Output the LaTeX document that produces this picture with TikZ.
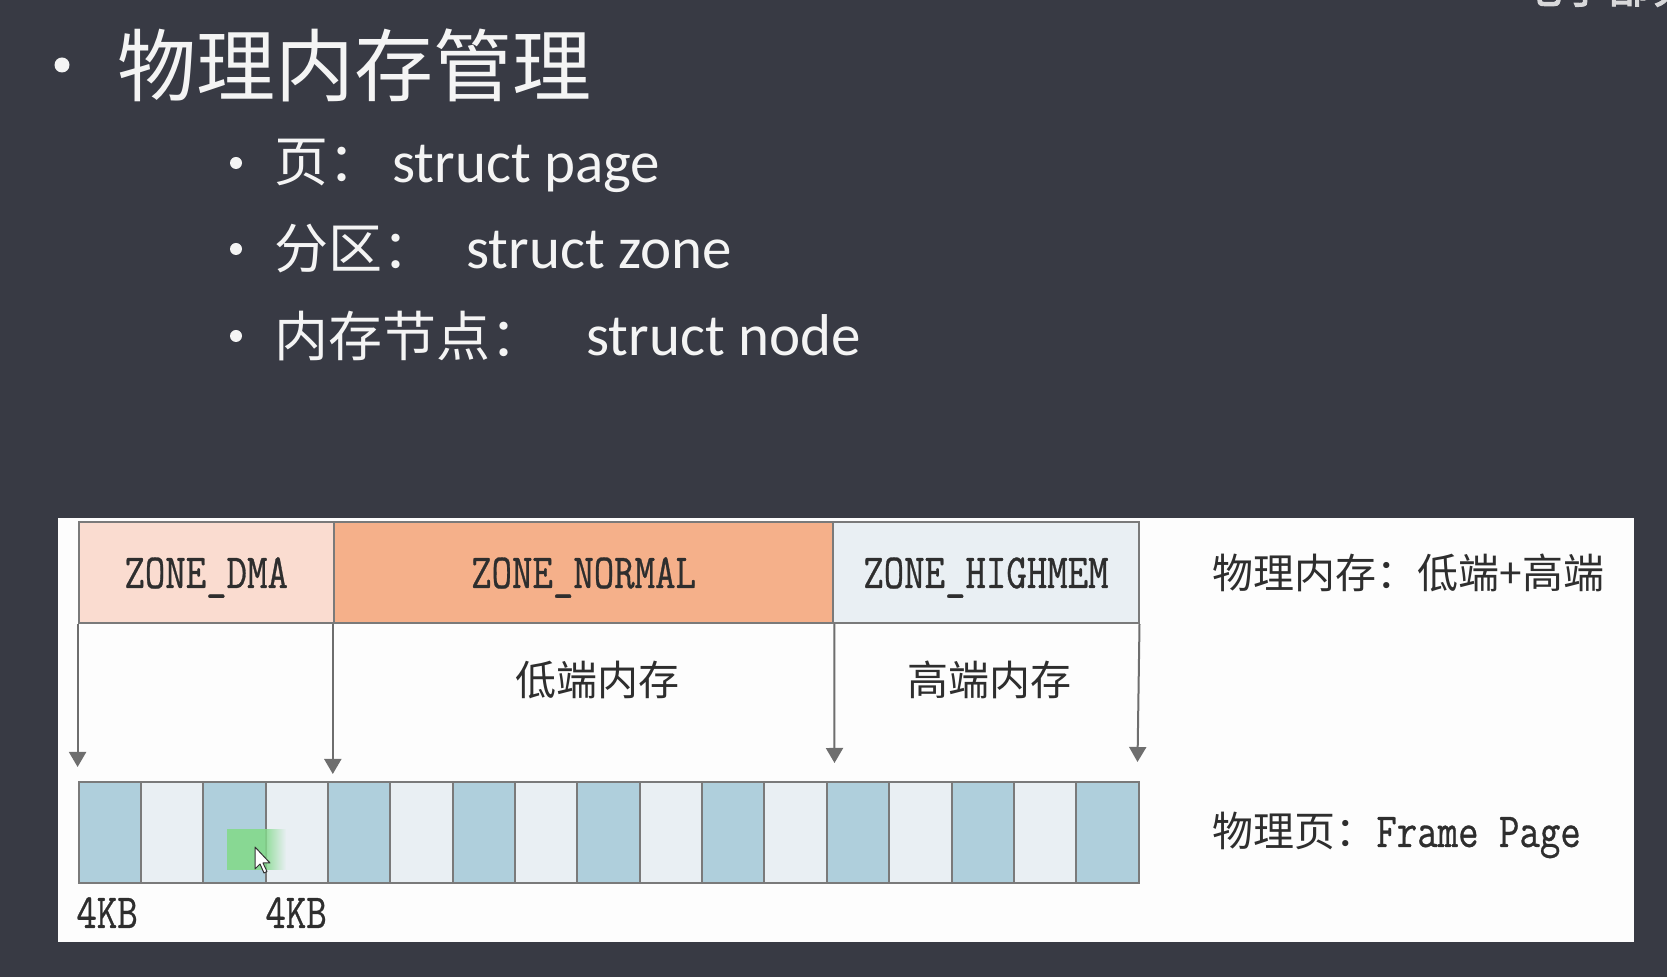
\documentclass[tikz,border=0pt]{standalone}
\usepackage{fontspec}
\usepackage{graphicx}
\usetikzlibrary{arrows.meta,fadings}
\setmainfont{Carlito}
\newfontfamily\cjk{Noto Sans CJK SC}
\newfontfamily\cjkb[FakeBold=2]{Noto Sans CJK SC}
\newfontfamily\monofam[FakeBold=0.7]{Latin Modern Mono}
\newcommand{\monotxt}[1]{\scalebox{0.81}[1]{\monofam\fontsize{24.5}{25}\selectfont #1}}

\definecolor{slide}{HTML}{383A44}
\definecolor{ink}{HTML}{F4F4F4}
\definecolor{paper}{HTML}{FDFDFD}
\definecolor{edge}{HTML}{7A7A7A}
\definecolor{dma}{HTML}{FADCD0}
\definecolor{normal}{HTML}{F5B08A}
\definecolor{high}{HTML}{E9EFF3}
\definecolor{pgblue}{HTML}{AFCFDC}
\definecolor{pglight}{HTML}{E9EFF3}
\definecolor{dtext}{HTML}{2E2E2E}
\definecolor{hlgreen}{HTML}{84DA8C}

\tikzset{
  bul/.style={circle, fill=ink, inner sep=0pt, minimum size=#1},
  head/.style={anchor=west, inner sep=0pt, text=ink, font=\cjk\fontsize{39.5}{40}\selectfont},
  subcjk/.style={anchor=west, inner sep=0pt, text=ink, font=\cjk\fontsize{27}{28}\selectfont},
  sublat/.style={anchor=base west, inner sep=0pt, text=ink, font=\fontsize{29.5}{30}\selectfont},
  zone/.style={draw=edge, line width=1pt, minimum height=50.5pt, inner sep=0pt,
    anchor=north west, text=dtext},
  zlabel/.style={inner sep=0pt, text=dtext},
  cell/.style={draw=edge, line width=1pt, minimum height=50.5pt, minimum width=31.175pt,
    inner sep=0pt, anchor=north west},
  lbl/.style={inner sep=0pt, text=dtext, font=\cjk\fontsize{20.5}{21}\selectfont},
  arr/.style={draw=edge!90!black, line width=1pt, -{Triangle[width=8.5pt,length=7.5pt]}},
}

\begin{document}
\begin{tikzpicture}[x=0.5pt, y=-0.5pt]
  % slide background
  \fill[slide] (0,0) rectangle (1667,977);
  \useasboundingbox (0,0) rectangle (1667,977);

  % heading fragment cut by the top edge
  \begin{scope}
    \clip (0,0) rectangle (1667,977);
    \node[anchor=base west, inner sep=0pt, text=ink!85!slide,
      font=\cjkb\fontsize{22.5}{23}\selectfont] (corner) at (1517,3) {电子部分};
  \end{scope}

  % bullet list
  \node[bul=7.5pt] (b0) at (62,65) {};
  \node[head] (title) at (117,65) {物理内存管理};

  \node[bul=6pt] (b1) at (236,163) {};
  \node[subcjk] (s1) at (274,163) {页：};
  \node[sublat] (l1) at (392,183) {struct page};

  \node[bul=6pt] (b2) at (236,249) {};
  \node[subcjk] (s2) at (274,249) {分区：};
  \node[sublat] (l2) at (466,269) {struct zone};

  \node[bul=6pt] (b3) at (236,336) {};
  \node[subcjk] (s3) at (274,336) {内存节点：};
  \node[sublat] (l3) at (586,356) {struct node};

  % diagram panel
  \fill[paper] (58,518) rectangle (1634,942);

  % zones
  \node[zone, fill=dma, minimum width=127.6pt] (zdma) at (77.6,521) {};
  \node[zone, fill=normal, minimum width=249.8pt] (znorm) at (332.8,521) {};
  \node[zone, fill=high, minimum width=152.55pt] (zhigh) at (832.4,521) {};
  \node[zlabel, anchor=base] (ldma) at ([yshift=-33.5pt]zdma.north) {\monotxt{ZONE\_DMA}};
  \node[zlabel, anchor=base] (lnorm) at ([yshift=-33.5pt]znorm.north) {\monotxt{ZONE\_NORMAL}};
  \node[zlabel, anchor=base] (lhigh) at ([yshift=-33.5pt]zhigh.north) {\monotxt{ZONE\_HIGHMEM}};

  % zone boundaries pointing at page frames
  \coordinate (t1) at (77.6,767);
  \coordinate (t2) at (332.8,774);
  \coordinate (t3) at (834.5,763);
  \coordinate (t4) at (1137.5,762);
  \draw[arr] (zdma.south west) -- (t1);
  \draw[arr] (znorm.south west) -- (t2);
  \draw[arr] ([xshift=1pt]zhigh.south west) -- (t3);
  \draw[arr] (zhigh.south east) -- (t4);

  \node[lbl] (low) at (597,680) {低端内存};
  \node[lbl] (hi) at (989,680) {高端内存};

  % page frames
  \foreach \i in {1,...,17}{
    \pgfmathsetmacro{\cx}{77.6+(\i-1)*62.35}
    \pgfmathtruncatemacro{\odd}{mod(\i,2)}
    \ifnum\odd=1 \def\cc{pgblue}\else\def\cc{pglight}\fi
    \node[cell, fill=\cc] (p\i) at (\cx,781) {};
  }

  % pointer highlight
  \fill[hlgreen, opacity=.9] (227,829) rectangle (264,870);
  \fill[hlgreen, opacity=.9, path fading=east] (264,829) rectangle (286,870);
  \draw[fill=white, draw=black!80, line width=0.5pt, line join=round]
    (255,847) -- ++(0,22) -- ++(5,-5) -- ++(4,9) -- ++(3,-1.5) -- ++(-4,-8.5) -- ++(7,0) -- cycle;

  % right-hand captions
  \node[lbl, anchor=west] (cap1) at (1212,573) {物理内存：低端+高端};
  \node[lbl, anchor=base west] (cap2) at (1212,847) {物理页：\monotxt{Frame Page}};

  % page size labels
  \node[zlabel, anchor=base west] (k1) at (76,928) {\monotxt{4KB}};
  \node[zlabel, anchor=base west] (k2) at (265,928) {\monotxt{4KB}};
\end{tikzpicture}
\end{document}
